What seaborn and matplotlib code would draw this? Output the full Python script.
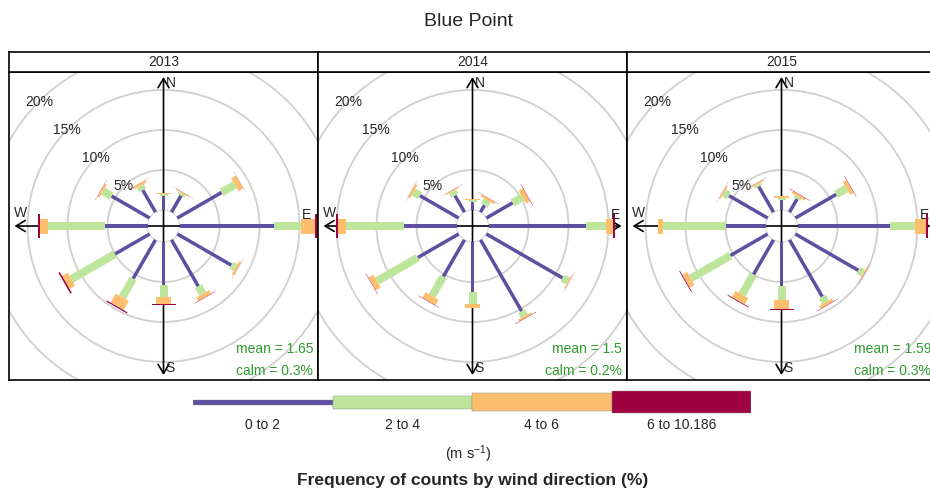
import numpy as np
import pandas as pd
import matplotlib
matplotlib.use("Agg")
import matplotlib.pyplot as plt
from matplotlib.patches import Circle
import seaborn as sns

sns.set_style("white")
plt.rcParams['font.family'] = ['Liberation Sans', 'DejaVu Sans']
plt.rcParams['mathtext.default'] = 'regular'

# data (% of counts per direction and speed bin)
years = ['2013', '2014', '2015']
directions = [0, 30, 60, 90, 120, 150, 180, 210, 240, 270, 300, 330]
speed_bins = ['0 to 2', '2 to 4', '4 to 6', '6 to 10.186']
bin_colors = sns.color_palette(['#5E4FA2', '#BEE59C', '#FDBE6E', '#9E0142'])

freq_2013 = [
    [1.8, 2.4, 6.4, 11.8, 7.8, 6.7, 5.4, 5.6, 5.0, 5.3, 5.5, 3.2],
    [0.2, 0.3, 1.9, 3.4, 0.6, 1.1, 1.5, 2.7, 6.3, 7.1, 1.2, 0.6],
    [0.1, 0.15, 0.7, 1.7, 0.3, 0.5, 0.9, 1.3, 0.8, 1.1, 0.3, 0.3],
    [0.02, 0.02, 0.02, 0.3, 0.02, 0.05, 0.1, 0.15, 0.2, 0.15, 0.03, 0.02],
]
freq_2014 = [
    [1.0, 1.0, 3.8, 12.2, 11.0, 10.3, 6.2, 5.3, 5.9, 6.6, 5.6, 2.4],
    [0.2, 0.7, 1.4, 2.5, 0.8, 0.7, 1.5, 2.8, 5.9, 7.2, 0.9, 0.6],
    [0.15, 0.3, 0.6, 0.9, 0.15, 0.25, 0.5, 0.8, 0.7, 1.0, 0.3, 0.15],
    [0.02, 0.03, 0.05, 0.2, 0.02, 0.05, 0.03, 0.05, 0.05, 0.25, 0.02, 0.02],
]
freq_2015 = [
    [1.2, 1.9, 5.9, 11.5, 9.1, 8.2, 5.5, 5.0, 5.4, 5.0, 5.6, 3.7],
    [0.3, 0.3, 1.5, 3.2, 0.7, 0.8, 1.7, 2.9, 5.7, 7.8, 0.7, 0.3],
    [0.2, 0.3, 0.5, 1.4, 0.15, 0.4, 1.2, 0.9, 0.7, 0.6, 0.2, 0.2],
    [0.02, 0.05, 0.05, 0.2, 0.02, 0.05, 0.08, 0.1, 0.1, 0.08, 0.02, 0.02],
]
mean_speed = ['1.65', '1.5', '1.59']
calm_pct = ['0.3', '0.2', '0.3']
ring_pcts = [5, 10, 15, 20]

rows = []
for yr, freq in zip(years, [freq_2013, freq_2014, freq_2015]):
    for b, vals in zip(speed_bins, freq):
        for d, v in zip(directions, vals):
            rows.append((yr, d, b, v))
df = pd.DataFrame(rows, columns=['year', 'wd', 'ws', 'freq'])

# geometry (pixels -> percent units)
PX = 8.0
offset = 16 / PX
paddle_w = [3.5 / PX, 8 / PX, 15 / PX, 24 / PX]
R = 149 / PX

W, H = 930, 495
fig = plt.figure(figsize=(W / 100, H / 100), dpi=100)
fig.text(468 / W, 1 - 21 / H, 'Blue Point', ha='center', va='center', fontsize=14)

for i, yr in enumerate(years):
    left = 9 + 309 * i
    ax = fig.add_axes([left / W, (H - 380) / H, 309 / W, 308 / H])
    ax.set_xlim(-154.5 / PX, 154.5 / PX)
    ax.set_ylim(-154 / PX, 154 / PX)
    ax.set_xticks([])
    ax.set_yticks([])
    for s in ax.spines.values():
        s.set_color('black')
        s.set_linewidth(1.2)

    ax.add_patch(Circle((0, 0), offset, fill=False, ec='#DDDDDD', lw=1, zorder=1))
    for p in ring_pcts:
        ax.add_patch(Circle((0, 0), offset + p, fill=False, ec='#D0D0D0', lw=1.3, zorder=1))
        rr = offset + p
        ax.text(-rr * np.sin(np.pi / 4), rr * np.cos(np.pi / 4), f'{p}%',
                ha='center', va='center', fontsize=10, zorder=4)

    arrow = dict(arrowstyle='<->,head_length=0.5,head_width=0.3', color='black',
                 lw=1.2, shrinkA=0, shrinkB=0, mutation_scale=13)
    ax.annotate('', xy=(0, R), xytext=(0, -R), arrowprops=arrow, zorder=2)
    ax.annotate('', xy=(R, 0), xytext=(-R, 0), arrowprops=arrow, zorder=2)
    ax.text(0.25, 17.9, 'N', ha='left', va='center', fontsize=10)
    ax.text(0.25, -17.8, 'S', ha='left', va='center', fontsize=10)
    ax.text(-17.9, 1.6, 'W', ha='center', va='center', fontsize=10)
    ax.text(17.9, 1.4, 'E', ha='center', va='center', fontsize=10)

    sub = df[df['year'] == yr]
    for d in directions:
        th = np.deg2rad(d)
        u = np.array([np.sin(th), np.cos(th)])
        v = np.array([np.cos(th), -np.sin(th)])
        r0 = offset
        for j, b in enumerate(speed_bins):
            val = sub[(sub['wd'] == d) & (sub['ws'] == b)]['freq'].iloc[0]
            r1 = r0 + val
            h = paddle_w[j] / 2
            pts = np.array([r0 * u + h * v, r1 * u + h * v, r1 * u - h * v, r0 * u - h * v])
            ax.fill(pts[:, 0], pts[:, 1], color=bin_colors[j], lw=0, zorder=3)
            r0 = r1

    ax.text(1 - 5 / 309, 31 / 308, f'mean = {mean_speed[i]}', transform=ax.transAxes,
            ha='right', va='center', fontsize=10, color='#2E9B2E')
    ax.text(1 - 5 / 309, 9 / 308, f'calm = {calm_pct[i]}%', transform=ax.transAxes,
            ha='right', va='center', fontsize=10, color='#2E9B2E')

    st = fig.add_axes([left / W, (H - 72) / H, 309 / W, 20 / H])
    st.set_xticks([])
    st.set_yticks([])
    for s in st.spines.values():
        s.set_color('black')
        s.set_linewidth(1.2)
    st.text(0.5, 0.5, yr, ha='center', va='center', fontsize=10, transform=st.transAxes)

# speed key
lg = fig.add_axes([193 / W, (H - 419) / H, 558 / W, 34 / H])
key_h = [5, 13, 18, 22]
lg.bar(np.arange(4) + 0.5, key_h, width=1, bottom=-np.array(key_h) / 2,
       color=bin_colors, edgecolor='#888888', linewidth=0.3)
lg.set_xlim(0, 4)
lg.set_ylim(-17, 17)
lg.axis('off')
for j, b in enumerate(speed_bins):
    fig.text((193 + 139.5 * (j + 0.5)) / W, 1 - 425 / H, b, ha='center', va='center', fontsize=10)
fig.text(468 / W, 1 - 454 / H, '(m s$^{-1}$)', ha='center', va='center', fontsize=10.5)
fig.text(473 / W, 1 - 481 / H, 'Frequency of counts by wind direction (%)',
         ha='center', va='center', fontsize=12.5, fontweight='bold')

fig.savefig('out.png', dpi=100)
